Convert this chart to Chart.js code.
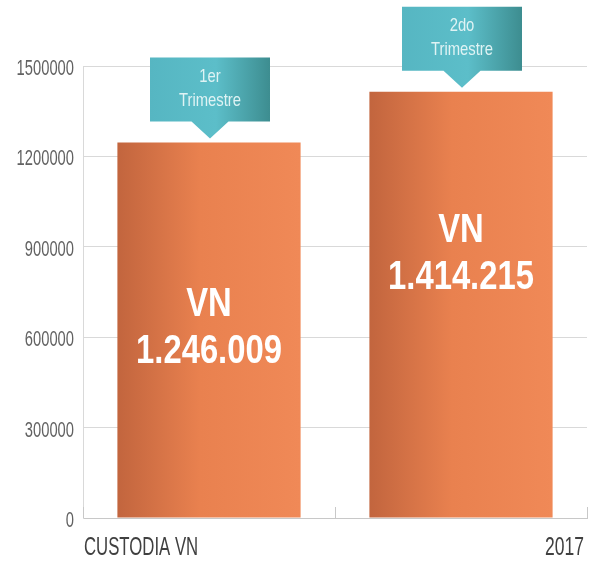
<!DOCTYPE html>
<html lang="es">
<head>
<meta charset="UTF-8" />
<title>Custodia VN 2017</title>
<script src="https://cdn.jsdelivr.net/npm/chart.js"></script>
<style>
  html, body { margin: 0; padding: 0; background: #fff; }
  #wrap { width: 594px; height: 561px; position: relative; }
</style>
</head>
<body>
<div id="wrap"><canvas id="chart"></canvas></div>
<script>
// datos
const categories = [['1er', 'Trimestre'], ['2do', 'Trimestre']];
const seriesName = 'VN';
const values = [1246009, 1414215];
const yTicks = [0, 300000, 600000, 900000, 1200000, 1500000];
const axisLeftLabel = 'CUSTODIA VN';
const axisRightLabel = '2017';

const FONT = '"Liberation Sans", Arial, sans-serif';
const BAR_PCT = 0.727;

function fmt(n) {
  return String(n).replace(/\B(?=(\d{3})+(?!\d))/g, '.');
}

function barBounds(chart, i) {
  const xs = chart.scales.x;
  const w = (xs.width / categories.length) * BAR_PCT;
  const c = xs.getPixelForValue(i);
  return { left: c - w / 2, right: c + w / 2, center: c };
}

// texto estrecho (la fuente original es condensada)
function narrowText(ctx, text, x, y, align, font, sx) {
  ctx.save();
  ctx.translate(x, y);
  ctx.scale(sx, 1);
  ctx.font = font;
  ctx.textAlign = align;
  ctx.textBaseline = 'alphabetic';
  ctx.fillText(text, 0, 0);
  ctx.restore();
}

// texto dentro de las barras, globos de trimestre y etiquetas de los ejes
const decorations = {
  id: 'decorations',
  afterDraw(chart) {
    const ctx = chart.ctx;
    const area = chart.chartArea;
    const ys = chart.scales.y;
    const shift = [9.5, -39.5];

    ctx.save();
    // marcas del eje x (hacia arriba)
    ctx.strokeStyle = '#c8c8c8';
    ctx.lineWidth = 1;
    [area.left, (area.left + area.right) / 2, area.right].forEach(x => {
      const px = Math.round(x) + 0.5;
      ctx.beginPath();
      ctx.moveTo(px, area.bottom - 11);
      ctx.lineTo(px, area.bottom);
      ctx.stroke();
    });

    // etiquetas del eje y
    ctx.fillStyle = '#626262';
    ys.ticks.forEach(t => {
      narrowText(ctx, String(t.value), area.left - 9, ys.getPixelForValue(t.value) + 9,
        'right', '22px ' + FONT, 0.67);
    });

    values.forEach((v, i) => {
      const b = barBounds(chart, i);
      const top = ys.getPixelForValue(v);
      const bottom = ys.getPixelForValue(0);

      // valor en la barra
      ctx.fillStyle = '#ffffff';
      const mid = (top + bottom) / 2 + shift[i];
      narrowText(ctx, seriesName, b.center, mid - 23.5, 'center', 'bold 40px ' + FONT, 0.82);
      narrowText(ctx, fmt(v), b.center, mid + 23.5, 'center', 'bold 40px ' + FONT, 0.82);

      // globo
      const bw = 120, bh = 64, tipH = 17, tipW = 37;
      const boxTop = top - 4 - tipH - bh;
      const boxL = b.center + 1 - bw / 2;
      const g = ctx.createLinearGradient(boxL, 0, boxL + bw, 0);
      g.addColorStop(0, '#56b6c2');
      g.addColorStop(0.55, '#5cbec9');
      g.addColorStop(1, '#3d8d90');
      ctx.fillStyle = g;
      ctx.beginPath();
      ctx.moveTo(boxL, boxTop);
      ctx.lineTo(boxL + bw, boxTop);
      ctx.lineTo(boxL + bw, boxTop + bh);
      ctx.lineTo(boxL + bw / 2 + tipW / 2, boxTop + bh);
      ctx.lineTo(boxL + bw / 2, boxTop + bh + tipH);
      ctx.lineTo(boxL + bw / 2 - tipW / 2, boxTop + bh);
      ctx.lineTo(boxL, boxTop + bh);
      ctx.closePath();
      ctx.fill();

      ctx.fillStyle = '#dff3f4';
      narrowText(ctx, categories[i][0], boxL + bw / 2, boxTop + 24, 'center', '19px ' + FONT, 0.78);
      narrowText(ctx, categories[i][1], boxL + bw / 2, boxTop + 48, 'center', '19px ' + FONT, 0.78);
    });

    // etiquetas inferiores
    ctx.fillStyle = '#404040';
    narrowText(ctx, axisLeftLabel, area.left + 1, 555, 'left', '25px ' + FONT, 0.67);
    narrowText(ctx, axisRightLabel, area.right - 3, 555, 'right', '25px ' + FONT, 0.7);
    ctx.restore();
  }
};

new Chart(document.getElementById('chart'), {
  type: 'bar',
  data: {
    labels: categories,
    datasets: [{
      label: seriesName,
      data: values,
      categoryPercentage: 1,
      barPercentage: BAR_PCT,
      borderWidth: 0,
      backgroundColor: (c) => {
        const chart = c.chart;
        if (!chart.chartArea || c.dataIndex === undefined) return '#ef8756';
        const b = barBounds(chart, c.dataIndex);
        const g = chart.ctx.createLinearGradient(b.left, 0, b.right, 0);
        g.addColorStop(0, '#c2653e');
        g.addColorStop(0.45, '#e9814f');
        g.addColorStop(1, '#f08957');
        return g;
      }
    }]
  },
  options: {
    responsive: true,
    maintainAspectRatio: false,
    animation: false,
    layout: { padding: { top: 66, right: 7, left: 0, bottom: 0 } },
    plugins: {
      legend: { display: false },
      tooltip: { enabled: false }
    },
    scales: {
      x: {
        ticks: { display: false },
        grid: { display: false },
        border: { color: '#c8c8c8' },
        afterFit: (s) => { s.height = 43; }
      },
      y: {
        min: 0,
        max: 1500000,
        afterBuildTicks: (s) => { s.ticks = yTicks.map(v => ({ value: v })); },
        ticks: { display: false },
        grid: { color: '#d9d9d9', drawTicks: false },
        border: { color: '#d9d9d9' },
        afterFit: (s) => { s.width = 83; }
      }
    }
  },
  plugins: [decorations]
});
</script>
</body>
</html>
